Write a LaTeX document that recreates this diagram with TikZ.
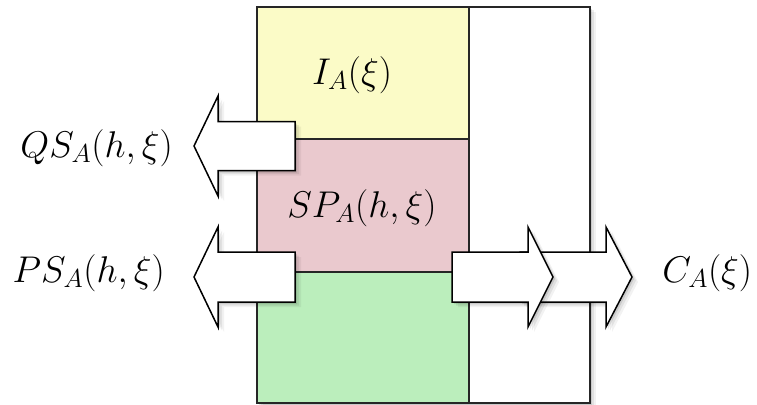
\RequirePackage{fix-cm}
\documentclass[tikz,border=0pt]{standalone}
\usetikzlibrary{shadows}
\definecolor{cyellow}{RGB}{251,251,199}
\definecolor{cpink}{RGB}{234,201,206}
\definecolor{cgreen}{RGB}{187,238,188}
\begin{document}
\begin{tikzpicture}[x=1pt,y=-1pt,
  lbl/.style={font=\fontsize{30}{36}\selectfont, inner sep=0pt, scale=1.24},
  softshadow/.style={
    drop shadow={shadow xshift=6pt, shadow yshift=-5pt, opacity=0.05, fill=black},
    drop shadow={shadow xshift=4pt, shadow yshift=-3.5pt, opacity=0.07, fill=black},
    drop shadow={shadow xshift=2pt, shadow yshift=-2pt, opacity=0.10, fill=black}},
  panel/.style={draw=black!85, line width=1.3pt},
  blockarrow/.style={draw=black, fill=white, line width=1.5pt, line join=miter, softshadow}]
\useasboundingbox (0,0) rectangle (757,404);
% columns
\fill[white, softshadow] (257,7) rectangle (590,403);
\fill[cyellow] (257,7) rectangle (469,139);
\fill[cpink] (257,139) rectangle (469,272);
\fill[cgreen] (257,272) rectangle (469,403);
\draw[panel] (257,7) rectangle (590,403);
\draw[panel] (469,7) -- (469,403);
\draw[panel] (257,139) -- (469,139);
\draw[panel] (257,272) -- (469,272);
% left arrows
\draw[blockarrow] (295,121.5) -- (218,121.5) -- (218,96) -- (194,146) -- (218,196) -- (218,170.5) -- (295,170.5) -- cycle;
\draw[blockarrow] (295,252) -- (218,252) -- (218,227) -- (194,277) -- (218,327) -- (218,302) -- (295,302) -- cycle;
% right arrows
\draw[blockarrow] (520,252) -- (606,252) -- (606,227) -- (632,277) -- (606,327) -- (606,302) -- (520,302) -- cycle;
\draw[blockarrow] (452,252) -- (528,252) -- (528,227) -- (553,277) -- (528,327) -- (528,302) -- (452,302) -- cycle;
% labels
\node[lbl] (ia) at (352,75) {$I_A(\xi)$};
\node[lbl] (sp) at (362,208) {$SP_A(h,\xi)$};
\node[lbl, anchor=east] (qs) at (173,148) {$QS_A(h,\xi)$};
\node[lbl, anchor=east] (ps) at (165,273) {$PS_A(h,\xi)$};
\node[lbl, anchor=west] (ca) at (662,273) {$C_A(\xi)$};
\end{tikzpicture}
\end{document}
